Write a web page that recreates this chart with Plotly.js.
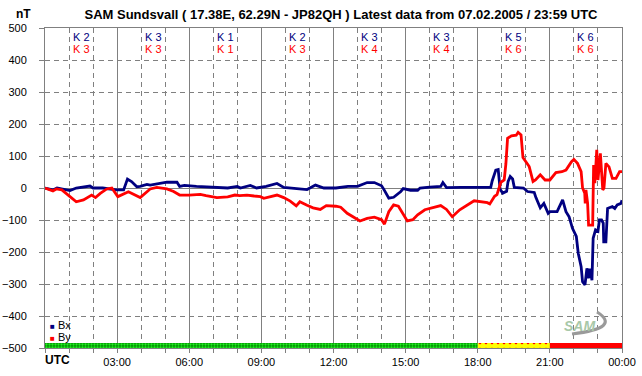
<!DOCTYPE html>
<html>
<head>
<meta charset="utf-8">
<script src="https://cdn.plot.ly/plotly-3.0.1.min.js"></script>
<style>html,body{margin:0;padding:0;background:#fff;}#chart{width:642px;height:376px;}</style>
</head>
<body>
<div id="chart"></div>
<script>
// ---- data ----
const bxHours = [0,0.33,0.5,1.04,1.3,1.87,2.0,2.4,2.96,3.27,3.43,3.6,3.82,3.96,4.24,4.375,5.07,5.49,5.6,5.8,6.3,7.0,7.6,8.0,8.125,8.54,8.8,9.2,9.65,9.93,10.3,10.6,10.9,11.25,11.6,12.1,12.6,13.0,13.4,13.7,14.0,14.1,14.3,14.5,14.8,14.9,15.2,15.5,15.6,16.0,16.46,16.55,16.7,17.3,18.3,18.54,18.6,18.75,18.85,18.93,19.04,19.2,19.26,19.35,19.45,19.52,19.9,20.07,20.35,20.42,20.6,20.75,20.93,21.0,21.3,21.53,21.67,21.8,21.94,22.1,22.18,22.3,22.36,22.46,22.54,22.6,22.66,22.75,22.8,22.9,23.0,23.06,23.15,23.22,23.24,23.33,23.4,23.6,23.7,23.8,23.96,24.0];
const bxValues = [0,-6,0,-8,0,6,0,0,-6,-6,28,20,4,5,11,9,18,18,5,8,5,2,0,5,0,8,0,5,14,2,0,-3,-5,9,0,0,5,5,17,17,7,-5,-32,-29,-11,-2,-7,-7,0,3,5,17,1,2,2,2,22,56,58,-4,-16,-10,20,36,28,2,0,-11,-14,-30,-62,-48,-79,-74,-74,-37,-74,-90,-126,-151,-204,-246,-293,-303,-251,-282,-252,-288,-157,-131,-135,-100,-100,-110,-168,-168,-64,-58,-64,-53,-48,-38];

const byHours = [0,0.33,0.47,0.7,1.04,1.3,1.6,1.94,2.1,2.3,2.57,2.78,3.03,3.3,3.47,3.96,4.375,4.65,5.07,5.35,5.6,6.0,6.46,6.7,7.15,7.6,7.9,8.1,8.4,8.7,8.96,9.1,9.44,9.65,9.93,10.2,10.45,10.6,10.9,11.15,11.45,11.7,12.1,12.3,12.57,13.1,13.4,13.7,14.0,14.12,14.3,14.5,14.7,14.9,15.07,15.3,15.5,15.8,16.2,16.46,16.7,16.94,17.25,17.5,17.85,18.4,18.5,18.7,18.8,18.96,19.1,19.17,19.24,19.4,19.6,19.68,19.8,19.88,20.0,20.14,20.3,20.4,20.6,20.8,21.0,21.25,21.5,21.67,21.9,22.0,22.15,22.3,22.36,22.45,22.47,22.5,22.57,22.61,22.78,22.82,22.87,22.95,23.0,23.1,23.2,23.25,23.33,23.46,23.6,23.75,23.9,24.0];
const byValues = [0,-9,-3,-6,-27,-43,-37,-22,-30,-17,-3,0,-27,-17,-12,-30,-3,2,-3,-11,-22,-22,-20,-24,-30,-28,-22,-24,-22,-25,-27,-32,-26,-22,-30,-41,-56,-43,-54,-62,-67,-55,-57,-60,-79,-103,-95,-91,-99,-113,-74,-53,-57,-84,-103,-99,-84,-68,-60,-55,-67,-90,-68,-57,-40,-46,-50,-26,-21,18,25,75,155,163,165,174,166,95,82,67,20,25,41,25,25,48,51,56,82,89,77,51,0,-16,-48,-6,-48,-116,-116,72,15,119,25,108,-6,0,77,66,30,30,51,51];

const kCenters = [1.5,4.5,7.5,10.5,13.5,16.5,19.5,22.5];
const kBx = [2,3,1,2,3,3,5,6];
const kBy = [3,3,1,3,4,4,6,6];

const tickHours = [0,3,6,9,12,15,18,21,24];
const tickLabels = ["","03:00","06:00","09:00","12:00","15:00","18:00","21:00","00:00"];

// activity bar: start hour, end hour
const barStart = [0,18,21];
const barEnd = [18,21,24];

// ---- styling ----
const FONT = "Arial, 'Liberation Sans', sans-serif";
const GRID = "#808080";
const BX_COLOR = "#000080";
const BY_COLOR = "#ff0000";

const barPatterns = [
  {shape: ".", bgcolor: "#009000", fgcolor: "#22ee22", size: 3, solidity: 0.45},
  {shape: ".", bgcolor: "#ffff00", fgcolor: "#ff0000", size: 6, solidity: 0.15},
  {shape: "", bgcolor: "#ff0000", fgcolor: "#ff0000", size: 6, solidity: 0.2}
];
const barColors = ["#009000","#ffff00","#ff0000"];

const traces = [
  {x: bxHours, y: bxValues, type: "scatter", mode: "lines", name: "Bx",
   line: {color: BX_COLOR, width: 2.8}, hoverinfo: "skip"},
  {x: byHours, y: byValues, type: "scatter", mode: "lines", name: "By",
   line: {color: BY_COLOR, width: 2.8}, hoverinfo: "skip"}
];

for (let i = 0; i < barStart.length; i++) {
  traces.push({
    type: "bar",
    x: [(barStart[i] + barEnd[i]) / 2],
    width: [barEnd[i] - barStart[i]],
    base: [-500],
    y: [16],
    marker: {color: barColors[i], line: {width: 0}, pattern: barPatterns[i]},
    hoverinfo: "skip",
    showlegend: false
  });
}

const annotations = [];
kCenters.forEach((c, i) => {
  annotations.push({x: c, xref: "x", y: (348 - 37) / 320, yref: "paper", text: "K " + kBx[i],
    showarrow: false, font: {family: FONT, size: 11, color: BX_COLOR}, xanchor: "center", yanchor: "middle"});
  annotations.push({x: c, xref: "x", y: (348 - 49) / 320, yref: "paper", text: "K " + kBy[i],
    showarrow: false, font: {family: FONT, size: 11, color: BY_COLOR}, xanchor: "center", yanchor: "middle"});
});
annotations.push({x: (23 - 45) / 577, xref: "paper", y: (348 - 14) / 320, yref: "paper", text: "<b>nT</b>",
  showarrow: false, font: {family: FONT, size: 12, color: "#000"}, xanchor: "center", yanchor: "middle"});
annotations.push({x: 0, xref: "paper", y: (348 - 360) / 320, yref: "paper", text: "<b>UTC</b>",
  showarrow: false, font: {family: FONT, size: 12, color: "#000"}, xanchor: "left", yanchor: "middle", xshift: -2});
annotations.push({x: (48 - 45) / 577, xref: "paper", y: (348 - 325) / 320, yref: "paper",
  text: "<span style='color:" + BX_COLOR + ";font-size:8px'>■</span> Bx",
  showarrow: false, font: {family: FONT, size: 11, color: "#000"}, xanchor: "left", yanchor: "middle"});
annotations.push({x: (48 - 45) / 577, xref: "paper", y: (348 - 337) / 320, yref: "paper",
  text: "<span style='color:" + BY_COLOR + ";font-size:8px'>■</span> By",
  showarrow: false, font: {family: FONT, size: 11, color: "#000"}, xanchor: "left", yanchor: "middle"});
// logo text
annotations.push({x: (579 - 45) / 577, xref: "paper", y: (348 - 326) / 320, yref: "paper",
  text: "<b><i>SAM</i></b>", showarrow: false,
  font: {family: FONT, size: 14, color: "#a8c8a8"}, xanchor: "center", yanchor: "middle"});

const px = v => (v - 45) / 577;
const py = v => (348 - v) / 320;
const shapes = [
  {type: "path", xref: "paper", yref: "paper",
   path: "M " + px(572) + "," + py(334) + " Q " + px(622) + "," + py(328) + " " + px(597) + "," + py(312),
   line: {color: "#9a9a9a", width: 3}}
];

const layout = {
  width: 642, height: 376,
  margin: {l: 45, r: 20, t: 28, b: 28, pad: 0},
  paper_bgcolor: "#ffffff", plot_bgcolor: "#ffffff",
  showlegend: false,
  barmode: "overlay",
  title: {text: "<b>SAM Sundsvall ( 17.38E, 62.29N - JP82QH ) Latest data from 07.02.2005 / 23:59 UTC</b>",
    font: {family: FONT, size: 13, color: "#000"}, x: 341 / 642, xanchor: "center", y: 1 - 14 / 376, yanchor: "middle",
    xref: "container", yref: "container"},
  xaxis: {
    range: [0, 24], tickmode: "array", tickvals: tickHours, ticktext: tickLabels,
    showgrid: true, gridcolor: GRID, gridwidth: 1,
    showline: true, mirror: true, linecolor: GRID, linewidth: 1,
    ticks: "outside", ticklen: 4, tickcolor: GRID,
    minor: {tickmode: "linear", tick0: 0, dtick: 1, showgrid: true, gridcolor: GRID, griddash: "5px,4px", gridwidth: 1,
      ticks: "outside", ticklen: 4, tickcolor: GRID},
    tickfont: {family: FONT, size: 11, color: "#000"},
    zeroline: false, fixedrange: true
  },
  yaxis: {
    range: [-500, 500], tickmode: "linear", tick0: -500, dtick: 100,
    showgrid: true, gridcolor: GRID, griddash: "5px,4px", gridwidth: 1,
    zeroline: true, zerolinecolor: GRID, zerolinewidth: 1,
    showline: true, mirror: true, linecolor: GRID, linewidth: 1,
    ticks: "outside", ticklen: 5, tickcolor: GRID, ticklabelstandoff: 10,
    tickfont: {family: FONT, size: 11, color: "#000"},
    fixedrange: true
  },
  annotations: annotations,
  shapes: shapes
};

Plotly.newPlot("chart", traces, layout, {staticPlot: true, displayModeBar: false});
</script>
</body>
</html>
